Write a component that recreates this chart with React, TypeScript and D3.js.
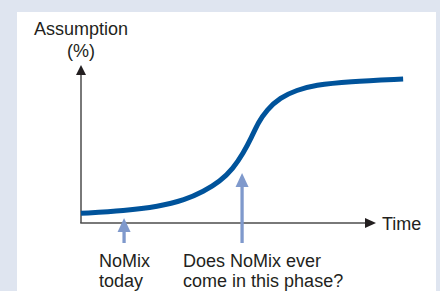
import React from 'react';
import * as d3 from 'd3';

// S-curve of assumption over time
const timeValues = [0, 14.9, 26.1, 35.3, 41.5, 47.1, 51.6, 55.0, 57.9, 60.1, 62.9, 67.5, 73.1, 79.3, 90.5, 109.2];
const assumptionValues = [6.1, 7.8, 10.3, 14.6, 19.9, 26.2, 34.6, 44.1, 54.6, 63.6, 71.5, 79.4, 84.1, 87.3, 89.6, 91.1];

// marker arrows below the curve
const markerTimes = [14.6, 54.6];
const markerTops = [3.2, 31.6];
const markerLabels = [
  ['NoMix', 'today'],
  ['Does NoMix ever', 'come in this phase?'],
];
const labelOffsets = [-25, -59];

const yTitle = ['Assumption', '(%)'];
const xTitle = 'Time';

const W = 440;
const H = 291;

const App: React.FC = () => {
  const x = d3.scaleLinear().domain([0, 100]).range([81, 376]);
  const y = d3.scaleLinear().domain([0, 100]).range([223, 65]);

  const pts = timeValues.map((t, i) => [t, assumptionValues[i]] as [number, number]);
  const line = d3
    .line<[number, number]>()
    .x(d => x(d[0]))
    .y(d => y(d[1]))
    .curve(d3.curveBasis);

  const font = "'Liberation Sans', Arial, Helvetica, sans-serif";
  const textColor = '#231f20';
  const markColor = '#7f99cc';
  const x0 = x(0);
  const y0 = y(0);

  return (
    <svg width={W} height={H} style={{ position: 'fixed', left: 0, top: 0 }} fontFamily={font}>
      <rect width={W} height={H} fill="#dfe5f0" />
      <rect x={17} y={12} width={419} height={H - 12} fill="#ffffff" />

      {/* axes */}
      <line x1={x0} y1={y0} x2={x0} y2={y(100) + 8} stroke="#4d4d4d" strokeWidth={1.5} />
      <line x1={x0 - 0.75} y1={y0} x2={x(100) - 8} y2={y0} stroke="#4d4d4d" strokeWidth={1.5} />
      <path d={`M${x0},${y(100)} L${x0 - 5},${y(100) + 10} L${x0 + 5},${y(100) + 10} Z`} fill="#231f20" />
      <path d={`M${x(100)},${y0} L${x(100) - 11},${y0 - 5} L${x(100) - 11},${y0 + 5} Z`} fill="#231f20" />

      <text x={x0} y={35} textAnchor="middle" fontSize={18} fill={textColor}>{yTitle[0]}</text>
      <text x={x0} y={57} textAnchor="middle" fontSize={18} fill={textColor}>{yTitle[1]}</text>
      <text x={x(100) + 6} y={y0 + 7} fontSize={18} fill={textColor}>{xTitle}</text>

      {/* marker arrows */}
      {markerTimes.map((t, i) => {
        const mx = x(t);
        const top = y(markerTops[i]);
        return (
          <g key={i}>
            <line x1={mx} y1={top + 10} x2={mx} y2={243} stroke={markColor} strokeWidth={3.3} />
            <path d={`M${mx},${top} L${mx - 6.5},${top + 14} L${mx + 6.5},${top + 14} Z`} fill={markColor} />
            <text x={mx + labelOffsets[i]} y={267} fontSize={18} fill={textColor}>{markerLabels[i][0]}</text>
            <text x={mx + labelOffsets[i]} y={287} fontSize={18} fill={textColor}>{markerLabels[i][1]}</text>
          </g>
        );
      })}

      {/* curve */}
      <path d={line(pts) || ''} fill="none" stroke="#00539b" strokeWidth={5} />
    </svg>
  );
};

export default App;
